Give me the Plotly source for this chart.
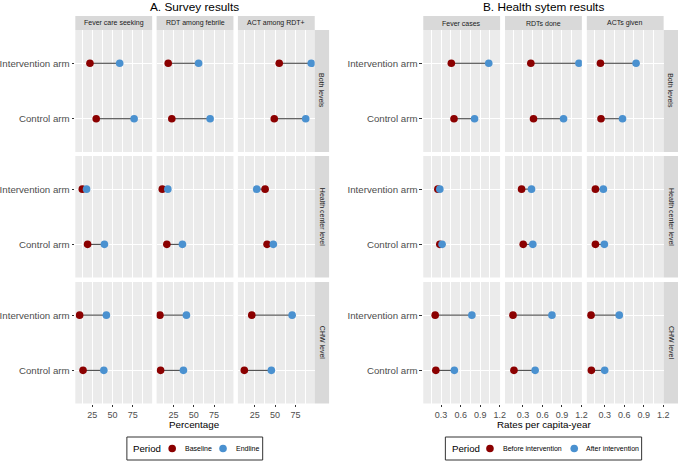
import plotly.graph_objects as go

W, H = 685, 462
FONT = "Liberation Sans"

# ---------------- data ----------------
arms = ["Control arm", "Intervention arm"]          # plotted at y = 1, 2
levels = ["Both levels", "Health center level", "CHW level"]

survey_indicators = ["Fever care seeking", "RDT among febrile", "ACT among RDT+"]
survey_periods = ["Baseline", "Endline"]
# rows = levels, columns = indicators
survey_baseline_intervention = [[22.2, 18.5, 55.1], [12.8, 11.2, 37.7], [9.5, 8.3, 21.3]]
survey_baseline_control      = [[29.9, 22.9, 49.0], [19.3, 16.8, 40.1], [13.7, 9.1, 12.1]]
survey_endline_intervention  = [[58.8, 55.9, 94.5], [18.0, 18.0, 27.4], [42.4, 40.9, 71.0]]
survey_endline_control       = [[76.6, 70.1, 87.7], [40.0, 36.0, 47.8], [39.3, 37.2, 45.4]]
survey_ticks = [25, 50, 75]
survey_minor = [12.5, 37.5, 62.5, 87.5]

health_indicators = ["Fever cases", "RDTs done", "ACTs given"]
health_periods = ["Before intervention", "After intervention"]
health_before_intervention = [[0.457, 0.422, 0.235], [0.250, 0.280, 0.158], [0.209, 0.148, 0.091]]
health_before_control      = [[0.498, 0.463, 0.244], [0.280, 0.305, 0.158], [0.219, 0.163, 0.096]]
health_after_intervention  = [[1.031, 1.160, 0.782], [0.280, 0.432, 0.280], [0.772, 0.746, 0.524]]
health_after_control       = [[0.813, 0.924, 0.574], [0.315, 0.452, 0.295], [0.503, 0.488, 0.300]]
health_ticks = [0.3, 0.6, 0.9, 1.2]
health_ticklabels = ["0.3", "0.6", "0.9", "1.2"]
health_minor = [0.15, 0.45, 0.75, 1.05]

RED = "#8B0000"
BLUE = "#4A91D0"
SEG = "#3A3A3A"
PANEL_BG = "#EBEBEB"
STRIP_BG = "#D9D9D9"
TICK_COL = "#4D4D4D"

# ---------------- layout geometry (pixels) ----------------
PW = 77.5
col_x0 = [[76, 158, 240], [427, 509.5, 592]]
row_y = [(30, 152), (156, 277.5), (282, 403.5)]
STRIP_TOP = 16
STRIP_W = 14.5


def fx(p):
    return p / W


def fy(p):
    return 1 - p / H


charts = [
    dict(
        title="A. Survey results", title_x=196, xtitle="Percentage", xtitle_x=196.5,
        indicators=survey_indicators, b_int=survey_baseline_intervention,
        b_ctl=survey_baseline_control, e_int=survey_endline_intervention,
        e_ctl=survey_endline_control, rng=[4.2, 98.8], ticks=survey_ticks,
        ticktext=[str(t) for t in survey_ticks], minor=survey_minor,
    ),
    dict(
        title="B. Health sytem results", title_x=548, xtitle="Rates per capita-year", xtitle_x=548.7,
        indicators=health_indicators, b_int=health_before_intervention,
        b_ctl=health_before_control, e_int=health_after_intervention,
        e_ctl=health_after_control, rng=[0.026, 1.205], ticks=health_ticks,
        ticktext=health_ticklabels, minor=health_minor,
    ),
]

fig = go.Figure()
layout = {}
shapes = []
annotations = []

n = 0
for c, ch in enumerate(charts):
    for r in range(3):
        y0, y1 = row_y[r]
        for k in range(3):
            n += 1
            sx = "" if n == 1 else str(n)
            x0 = col_x0[c][k]
            x1 = x0 + PW
            xa = "x" + sx
            ya = "y" + sx
            bi, bc = ch["b_int"][r][k], ch["b_ctl"][r][k]
            ei, ec = ch["e_int"][r][k], ch["e_ctl"][r][k]
            fig.add_trace(go.Scatter(
                x=[bi, ei, None, bc, ec], y=[2, 2, None, 1, 1], mode="lines",
                line=dict(color=SEG, width=1), xaxis=xa, yaxis=ya,
                showlegend=False, hoverinfo="skip"))
            fig.add_trace(go.Scatter(
                x=[bi, bc], y=[2, 1], mode="markers",
                marker=dict(color=RED, size=7.6, line=dict(width=0)),
                xaxis=xa, yaxis=ya, showlegend=False))
            fig.add_trace(go.Scatter(
                x=[ei, ec], y=[2, 1], mode="markers",
                marker=dict(color=BLUE, size=7.6, line=dict(width=0)),
                xaxis=xa, yaxis=ya, showlegend=False))
            bottom = r == 2
            left = k == 0
            layout["xaxis" + sx] = dict(
                domain=[fx(x0), fx(x1)], range=ch["rng"], anchor=ya,
                tickvals=ch["ticks"], ticktext=ch["ticktext"],
                showticklabels=bottom, ticks="outside" if bottom else "",
                ticklen=2.3, tickwidth=1, tickcolor="#333333",
                tickfont=dict(family=FONT, size=9.0, color=TICK_COL),
                showgrid=True, gridcolor="white", gridwidth=1.1,
                minor=dict(tickvals=ch["minor"], showgrid=True, gridcolor="white",
                           gridwidth=0.55, ticks=""),
                zeroline=False, showline=False, fixedrange=True,
            )
            layout["yaxis" + sx] = dict(
                domain=[fy(y1), fy(y0)], range=[0.4, 2.6], anchor=xa,
                tickvals=[1, 2], ticktext=arms,
                showticklabels=left, ticks="outside" if left else "",
                ticklen=2.8, tickwidth=1, tickcolor="#333333",
                tickfont=dict(family=FONT, size=9.7, color=TICK_COL),
                showgrid=True, gridcolor="white", gridwidth=1.1,
                zeroline=False, showline=False, fixedrange=True,
            )
    # top strips
    for k in range(3):
        x0 = col_x0[c][k]
        shapes.append(dict(type="rect", xref="paper", yref="paper",
                           x0=fx(x0), x1=fx(x0 + PW), y0=fy(row_y[0][0]), y1=fy(STRIP_TOP),
                           fillcolor=STRIP_BG, line=dict(width=0), layer="below"))
        annotations.append(dict(text=ch["indicators"][k], xref="paper", yref="paper",
                                x=fx(x0 + PW / 2), y=fy((STRIP_TOP + row_y[0][0]) / 2),
                                xanchor="center", yanchor="middle", showarrow=False,
                                font=dict(family=FONT, size=7, color="#1A1A1A")))
    # right strips
    sx0 = col_x0[c][2] + PW
    for r in range(3):
        y0, y1 = row_y[r]
        shapes.append(dict(type="rect", xref="paper", yref="paper",
                           x0=fx(sx0), x1=fx(sx0 + STRIP_W), y0=fy(y1), y1=fy(y0),
                           fillcolor=STRIP_BG, line=dict(width=0), layer="below"))
        annotations.append(dict(text=levels[r], xref="paper", yref="paper",
                                x=fx(sx0 + STRIP_W / 2), y=fy((y0 + y1) / 2),
                                xanchor="center", yanchor="middle", textangle=90,
                                showarrow=False,
                                font=dict(family=FONT, size=7, color="#1A1A1A")))
    # titles
    annotations.append(dict(text=ch["title"], xref="paper", yref="paper",
                            x=fx(ch["title_x"]), y=fy(6.5), xanchor="center", yanchor="middle",
                            showarrow=False, font=dict(family=FONT, size=11.8, color="black")))
    annotations.append(dict(text=ch["xtitle"], xref="paper", yref="paper",
                            x=fx(ch["xtitle_x"]), y=fy(424.2), xanchor="center", yanchor="middle",
                            showarrow=False, font=dict(family=FONT, size=9.8, color="black")))

# ---------------- legends (drawn as frame + keys + text) ----------------
legends = [
    dict(box=(128, 265), title_x=132.5, items=[(173.7, RED, survey_periods[0], 185),
                                              (225, BLUE, survey_periods[1], 236.3)]),
    dict(box=(449.3, 647.3), title_x=453.8, items=[(494.3, RED, health_periods[0], 505.3),
                                                  (579.3, BLUE, health_periods[1], 589.3)]),
]
LY0, LY1 = 437, 460
LYC = (LY0 + LY1) / 2
for lg in legends:
    shapes.append(dict(type="rect", xref="paper", yref="paper",
                       x0=fx(lg["box"][0]), x1=fx(lg["box"][1]), y0=fy(LY1), y1=fy(LY0),
                       fillcolor="white", line=dict(color="#333333", width=1)))
    annotations.append(dict(text="Period", xref="paper", yref="paper",
                            x=fx(lg["title_x"]), y=fy(LYC), xanchor="left", yanchor="middle",
                            showarrow=False, font=dict(family=FONT, size=9.7, color="black")))
    for cx, col, label, tx in lg["items"]:
        shapes.append(dict(type="circle", xref="paper", yref="paper",
                           xsizemode="pixel", ysizemode="pixel",
                           xanchor=fx(cx), yanchor=fy(LYC),
                           x0=-3.8, x1=3.8, y0=-3.8, y1=3.8,
                           fillcolor=col, line=dict(width=0)))
        annotations.append(dict(text=label, xref="paper", yref="paper",
                                x=fx(tx), y=fy(LYC), xanchor="left", yanchor="middle",
                                showarrow=False, font=dict(family=FONT, size=7, color="black")))

fig.update_layout(
    width=W, height=H, margin=dict(l=0, r=0, t=0, b=0),
    paper_bgcolor="white", plot_bgcolor=PANEL_BG,
    font=dict(family=FONT), showlegend=False,
    shapes=shapes, annotations=annotations, **layout,
)

fig.write_html(
    "out.html",
    config={"displayModeBar": False},
    post_script="document.body.style.margin='0';document.body.style.overflow='hidden';",
)
